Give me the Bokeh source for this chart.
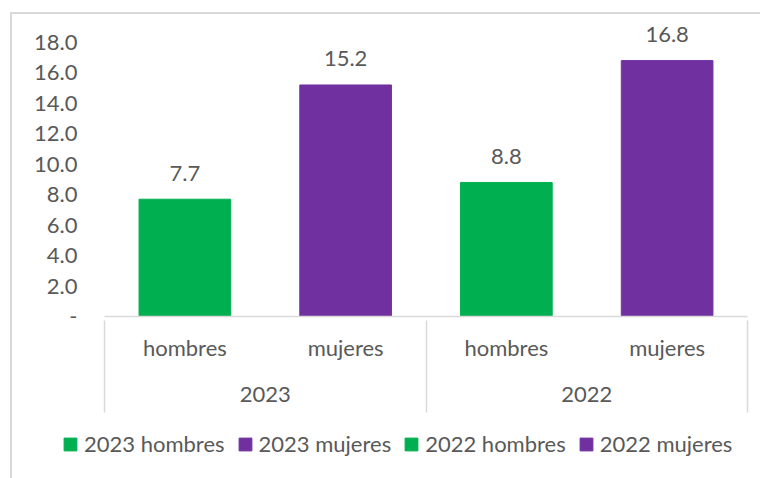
from bokeh.plotting import figure
from bokeh.models import (Range1d, LinearAxis, FixedTicker,
                          NumeralTickFormatter, ColumnDataSource)
from bokeh.layouts import column
from bokeh.core.properties import value
from bokeh.embed import file_html
from bokeh.resources import INLINE

# ---- data ----
years = ["2023", "2022"]
sexes = ["hombres", "mujeres"]
series = ["2023 hombres", "2023 mujeres", "2022 hombres", "2022 mujeres"]
values = [7.7, 15.2, 8.8, 16.8]
colors = ["#00B050", "#7030A0", "#00B050", "#7030A0"]
y_ticks = [0, 2, 4, 6, 8, 10, 12, 14, 16, 18]

FONT = "Lato"
TXT = "#595959"
GRID = "#d9d9d9"
FS = "22px"

n = len(series)
per = len(sexes)
xpos = [i + 0.5 for i in range(n)]
cat_labels = [s.split(" ")[1] for s in series]
group_pos = [g * per + per / 2 for g in range(len(years))]
sep_pos = list(range(0, n + 1, per))

src = ColumnDataSource(dict(
    x=xpos, top=values, color=colors,
    txt=[f"{v:.1f}" for v in values],
))

p = figure(width=748, height=410, output_backend="svg", toolbar_location=None,
           x_range=Range1d(0, n), y_range=Range1d(0, 19.5),
           min_border_left=92, min_border_right=13, min_border_top=5,
           min_border_bottom=108, x_axis_type=None)
p.outline_line_color = None
p.grid.visible = False

p.vbar(x="x", top="top", width=0.57, color="color", source=src)
p.text(x="x", y="top", text="txt", source=src, text_align="center",
       text_baseline="alphabetic", y_offset=-26, text_font=value(FONT),
       text_font_size=FS, text_color=TXT)

# y axis
ya = p.yaxis[0]
ya.ticker = FixedTicker(ticks=y_ticks)
ya.formatter = NumeralTickFormatter(format="0.0")
ya.major_label_overrides = {0: "-"}
ya.axis_line_color = None
ya.major_tick_line_color = None
ya.minor_tick_line_color = None
ya.major_tick_out = 0
ya.major_label_standoff = 27
ya.major_label_text_font = FONT
ya.major_label_text_font_size = FS
ya.major_label_text_color = TXT

# category labels (hombres / mujeres)
xa = LinearAxis(ticker=FixedTicker(ticks=xpos),
                major_label_overrides={x: l for x, l in zip(xpos, cat_labels)})
xa.axis_line_color = GRID
xa.axis_line_width = 1.5
xa.major_tick_line_color = None
xa.minor_tick_line_color = None
xa.major_tick_out = 0
xa.major_label_standoff = 17
xa.major_label_text_font = FONT
xa.major_label_text_font_size = FS
xa.major_label_text_color = TXT
p.add_layout(xa, "below")

# group labels (years)
ga = LinearAxis(ticker=FixedTicker(ticks=group_pos),
                major_label_overrides={x: y for x, y in zip(group_pos, years)})
ga.axis_line_color = None
ga.major_tick_line_color = None
ga.minor_tick_line_color = None
ga.major_tick_out = 0
ga.major_label_standoff = 23
ga.major_label_text_font = FONT
ga.major_label_text_font_size = FS
ga.major_label_text_color = TXT
p.add_layout(ga, "below")

# group separators (ticks reaching up to the category axis line)
sa = LinearAxis(ticker=FixedTicker(ticks=sep_pos))
sa.axis_line_color = None
sa.major_tick_line_color = GRID
sa.major_tick_line_width = 1.5
sa.minor_tick_line_color = None
sa.major_tick_in = 84
sa.major_tick_out = 8
sa.major_label_standoff = 0
sa.major_label_text_font_size = "1px"
sa.major_label_text_color = None
p.add_layout(sa, "below")

# legend strip (its bars lie outside its own ranges, only the legend shows)
lp = figure(width=748, height=54, output_backend="svg", toolbar_location=None,
            x_range=Range1d(-1, 0), y_range=Range1d(-1, 0),
            min_border_left=0, min_border_right=0, min_border_top=0, min_border_bottom=0,
            x_axis_type=None, y_axis_type=None)
if "frame_align" in lp.properties():
    lp.frame_align = False
    p.frame_align = False
lp.outline_line_color = None
lp.grid.visible = False
for x, v, s, c in zip(xpos, values, series, colors):
    lp.vbar(x=[x], top=[v], width=0.57, color=c, legend_label=s)
lg = lp.legend[0]
lg.location = (50, 21)
lg.orientation = "horizontal"
lg.padding = 0
lg.margin = 0
lg.border_line_color = None
lg.background_fill_alpha = 0
lg.glyph_width = 16
lg.glyph_height = 16
lg.label_standoff = 6
lg.spacing = 12
lg.label_text_font = FONT
lg.label_text_font_size = FS
lg.label_text_color = TXT

lay = column(p, lp, spacing=0,
             styles={"border-top": f"2px solid {GRID}", "border-left": f"2px solid {GRID}",
                     "margin-top": "12px", "margin-left": "10px"})

open("out.html", "w").write(file_html(lay, INLINE))
